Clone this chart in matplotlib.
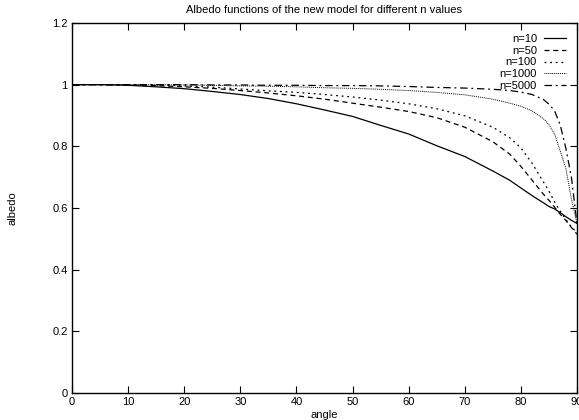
import numpy as np
import matplotlib
matplotlib.use("Agg")
import matplotlib.pyplot as plt
from matplotlib.ticker import FormatStrFormatter

angles = [0, 5, 10, 15, 20, 25, 30, 35, 40, 45, 50, 55, 60, 65, 70, 75,
          78, 80, 82, 84, 85, 86, 87, 88, 89, 90]

alb_n10 = [1.0, 1.0, 0.998, 0.993, 0.987, 0.978, 0.968, 0.955, 0.938, 0.918,
           0.897, 0.868, 0.840, 0.802, 0.767, 0.720, 0.690, 0.665, 0.640,
           0.617, 0.605, 0.597, 0.585, 0.572, 0.560, 0.550]
alb_n50 = [1.0, 1.0, 0.999, 0.997, 0.993, 0.988, 0.981, 0.973, 0.964, 0.953,
           0.940, 0.927, 0.913, 0.893, 0.862, 0.815, 0.775, 0.735, 0.690,
           0.645, 0.625, 0.603, 0.580, 0.560, 0.537, 0.515]
alb_n100 = [1.0, 1.0, 1.0, 0.999, 0.996, 0.992, 0.986, 0.980, 0.975, 0.968,
            0.960, 0.950, 0.938, 0.922, 0.899, 0.862, 0.828, 0.795, 0.745,
            0.685, 0.655, 0.620, 0.590, 0.563, 0.538, 0.520]
alb_n1000 = [1.0, 1.0, 1.0, 1.0, 0.999, 0.998, 0.996, 0.995, 0.993, 0.990,
             0.988, 0.985, 0.981, 0.975, 0.967, 0.953, 0.940, 0.930, 0.915,
             0.890, 0.870, 0.840, 0.785, 0.730, 0.630, 0.550]
alb_n5000 = [1.0, 1.0, 1.0, 1.0, 1.0, 0.999, 0.999, 0.998, 0.998, 0.997,
             0.997, 0.996, 0.994, 0.991, 0.989, 0.985, 0.981, 0.976, 0.968,
             0.952, 0.937, 0.915, 0.870, 0.795, 0.700, 0.550]

labels = ["n=10", "n=50", "n=100", "n=1000", "n=5000"]
x_ticks = [0, 10, 20, 30, 40, 50, 60, 70, 80, 90]
y_ticks = [0, 0.2, 0.4, 0.6, 0.8, 1.0, 1.2]

plt.rcParams['font.family'] = ['Liberation Sans', 'DejaVu Sans']
plt.rcParams['font.size'] = 8

fig = plt.figure(figsize=(5.79, 4.2), dpi=100)
ax = fig.add_axes([72 / 579, 27 / 420, 505 / 579, 370 / 420])

series = [alb_n10, alb_n50, alb_n100, alb_n1000, alb_n5000]
styles = ['-', (0, (4, 3)), (0, (1.5, 3)), (0, (1, 1)), (0, (6, 3, 1.5, 3))]
widths = [0.9, 0.9, 0.9, 0.7, 0.9]
for vals, lab, ls, lw in zip(series, labels, styles, widths):
    ax.plot(angles, vals, color='black', linestyle=ls, linewidth=lw, label=lab)

ax.set_xlim(0, 90)
ax.set_ylim(0, 1.2)
ax.set_xticks(x_ticks)
ax.set_yticks(y_ticks)
ax.yaxis.set_major_formatter(FormatStrFormatter('%g'))
ax.tick_params(direction='in', top=True, right=True, length=5, width=0.8,
               labelsize=8, pad=3)
for sp in ax.spines.values():
    sp.set_linewidth(1.0)

ax.set_title("Albedo functions of the new model for different n values",
             fontsize=8, pad=7)
ax.set_xlabel("angle", fontsize=8, labelpad=2)
ax.set_ylabel("albedo", fontsize=8, labelpad=25)

ax.legend(loc='upper right', bbox_to_anchor=(0.978, 0.97), frameon=False,
          markerfirst=False, fontsize=8, handlelength=2.0, handletextpad=0.6,
          labelspacing=0.15, borderpad=0, borderaxespad=0)

fig.savefig("out.png", dpi=100)
